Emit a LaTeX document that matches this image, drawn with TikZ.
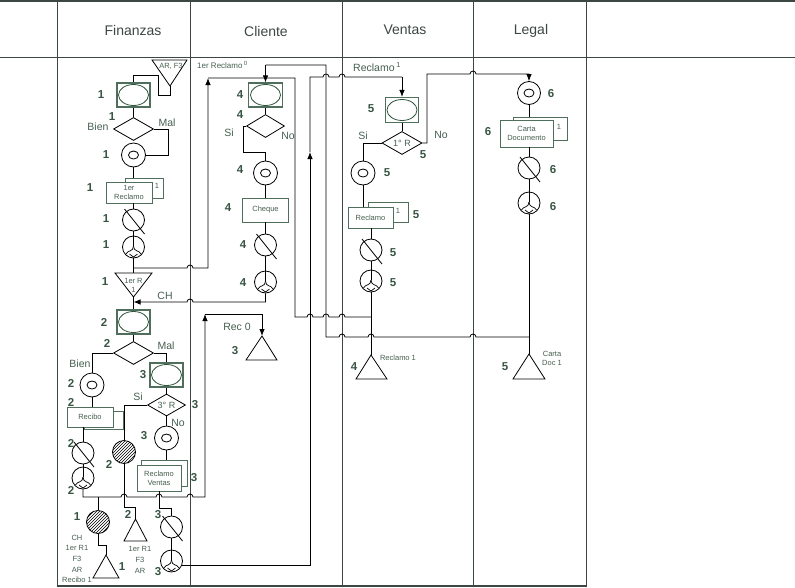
\documentclass[tikz,border=0pt]{standalone}
\usepackage{fontspec}
\setmainfont{Liberation Sans}
\usetikzlibrary{shapes.geometric,arrows.meta,patterns}
\definecolor{gridc}{RGB}{60,70,66}
\definecolor{lblc}{RGB}{55,85,66}
\definecolor{txtc}{RGB}{70,95,80}
\definecolor{boxc}{RGB}{80,110,92}
\definecolor{ovc}{RGB}{45,85,60}
\newcommand\xslash[1]{\draw[ln] ([shift={(-9pt,11pt)}]#1.center) -- ([shift={(11pt,-14pt)}]#1.center);}
\begin{document}
\begin{tikzpicture}[x=1pt,y=-1pt,
 ln/.style={line width=0.8pt},
 arr/.style={line width=0.8pt,-{Latex[length=7pt,width=5.5pt]}},
 num/.style={font=\fontsize{11.5}{12}\selectfont\bfseries,text=lblc,inner sep=0pt},
 lab/.style={font=\fontsize{10.5}{12}\selectfont,text=txtc,inner sep=0pt},
 small/.style={font=\fontsize{7.5}{9}\selectfont,text=txtc,inner sep=0pt,align=center},
 head/.style={font=\fontsize{14}{16}\selectfont,text=gridc},
 ovalbox/.style={rectangle,draw=boxc,line width=1.1pt,minimum width=33pt,minimum height=24pt,inner sep=0pt,
   path picture={\draw[ovc,line width=0.8pt] (path picture bounding box.center) ellipse [x radius=15pt,y radius=10.5pt];}},
 dec/.style={diamond,draw,line width=0.8pt,aspect=1.7,minimum width=40pt,minimum height=23pt,inner sep=0pt,font=\fontsize{9}{10}\selectfont,text=txtc},
 dcirc/.style={circle,draw,line width=0.8pt,minimum size=24pt,inner sep=0pt,
   path picture={\draw[line width=0.8pt] (path picture bounding box.center) ellipse [x radius=5pt,y radius=4pt];}},
 xcirc/.style={circle,draw,line width=0.8pt,minimum size=22pt,inner sep=0pt},
 hcirc/.style={circle,draw,line width=0.8pt,minimum size=23pt,inner sep=0pt,pattern=north east lines},
 fcirc/.style={circle,draw,line width=0.8pt,minimum size=22pt,inner sep=0pt,
   path picture={\coordinate (pc) at (path picture bounding box.center);
     \draw[line width=0.7pt] ([yshift=11pt]pc) -- ([yshift=1pt]pc);
     \draw[line width=0.7pt] ([yshift=1pt]pc) .. controls ([yshift=-5pt]pc) and ([shift={(-6pt,-3pt)}]pc) .. ([shift={(-7.5pt,-7pt)}]pc);
     \draw[line width=0.7pt] ([yshift=1pt]pc) .. controls ([yshift=-5pt]pc) and ([shift={(6pt,-3pt)}]pc) .. ([shift={(7.5pt,-7pt)}]pc);
     \draw[line width=0.7pt] ([shift={(-4pt,-7pt)}]pc) -- ([yshift=-10pt]pc) -- ([shift={(4pt,-7pt)}]pc);}},
 docf/.style={rectangle,draw=boxc,fill=white,line width=0.8pt,inner sep=1pt,font=\fontsize{7.5}{9}\selectfont,text=txtc,align=center},
 docb/.style={draw=boxc,fill=white,line width=0.8pt}
]
\useasboundingbox (0,0) rectangle (795,587);
% grid
\draw[gridc,line width=2pt] (0,1) -- (795,1);
\draw[gridc,line width=1pt] (0,57) -- (795,57);
\foreach \x in {57,190,342,473,586} \draw[gridc,line width=0.9pt] (\x,0) -- (\x,587);
\draw[gridc,line width=1.5pt] (57,586) -- (586,586);
% headers
\node[head] (hF) at (133,30) {Finanzas};
\node[head] (hC) at (266,31) {Cliente};
\node[head] (hV) at (405,30) {Ventas};
\node[head] (hL) at (531,31) {Legal};

% ---------------- Finanzas
\coordinate (tAR) at (170,86);
\draw[ln] (152,60) -- (187,60) -- (tAR) -- cycle;
\node[small] (tARl) at (171,66) {AR, F3};
\node[ovalbox] (ob1) at (133.5,95) {};
\node[dec] (d1) at (133.5,129) {};
\node[dcirc] (c1) at (133.5,155) {};
\draw[docb] (125,178) rectangle (163,198);
\node[small] (b1n) at (157,186) {1};
\node[docf,minimum width=46pt,minimum height=21pt] (doc1) at (129,192.5) {1er\\Reclamo};
\node[xcirc] (x1) at (133.5,220) {}; \xslash{x1}
\node[fcirc] (f1) at (133.5,247) {};
\coordinate (t1R) at (133.5,297);
\draw[ln] (115,273) -- (152,273) -- (t1R) -- cycle;
\node[small] (t1Rl) at (133.5,285) {1er R\\1};
\node[ovalbox] (ob2) at (133.5,322) {};
\node[dec] (d2) at (133.5,353) {};
\node[dcirc] (c2) at (92,385) {};
\node[ovalbox] (ob3) at (166.5,375) {};
\node[dec,minimum width=38pt,minimum height=22pt] (d3) at (166.5,405) {3° R};
\draw[docb] (84,411) rectangle (123,429);
\node[docf,minimum width=46pt,minimum height=20pt] (doc2) at (90,417) {Recibo};
\node[dcirc] (c3) at (166.5,438) {};
\node[hcirc] (hc2) at (124,452) {};
\node[xcirc] (x2) at (83,453) {}; \xslash{x2}
\node[fcirc] (f2) at (83,478) {};
\draw[docb] (141,460) rectangle (187,486);
\node[docf,minimum width=44pt,minimum height=26pt] (doc3) at (159,478) {Reclamo\\Ventas};
\node[hcirc] (hc1) at (98,522) {};
\coordinate (t2) at (135.5,519);
\draw[ln] (t2) -- (147,541) -- (124,541) -- cycle;
\node[xcirc] (x3) at (171.5,527) {}; \xslash{x3}
\node[fcirc] (f3) at (171.5,561) {};
\coordinate (tt1) at (106,555);
\draw[ln] (tt1) -- (119,578) -- (93,578) -- cycle;
\node[small,font=\fontsize{7.5}{10.7}\selectfont] (txt1) at (77,559) {CH\\1er R1\\F3\\AR\\Recibo 1};
\node[small,font=\fontsize{7.5}{10.7}\selectfont] (txt2) at (140,560) {1er R1\\F3\\AR};
% Finanzas labels
\node[num] (l1) at (101,95) {1};
\node[num] (l2) at (112,117) {1};
\node[lab] (l3) at (98,127) {Bien};
\node[lab] (l4) at (167,123) {Mal};
\node[num] (l5) at (106,155) {1};
\node[num] (l6) at (90,188) {1};
\node[num] (l7) at (106,219) {1};
\node[num] (l8) at (106,245) {1};
\node[num] (l9) at (105,282) {1};
\node[lab] (l10) at (165,296) {CH};
\node[num] (l11) at (104,322) {2};
\node[num] (l12) at (107,343) {2};
\node[lab] (l13) at (166,346) {Mal};
\node[lab] (l14) at (80,364) {Bien};
\node[num] (l15) at (71,383) {2};
\node[num] (l16) at (143,375) {3};
\node[lab] (l17) at (138,397) {Si};
\node[num] (l18) at (195,405) {3};
\node[lab] (l19) at (178,423) {No};
\node[num] (l20) at (71,402) {2};
\node[num] (l21) at (144,436) {3};
\node[num] (l22) at (71,443) {2};
\node[num] (l23) at (109,464) {2};
\node[num] (l24) at (71,490) {2};
\node[num] (l25) at (194,478) {3};
\node[num] (l26) at (77,517) {1};
\node[num] (l27) at (128,514) {2};
\node[num] (l28) at (158,515) {3};
\node[num] (l29) at (122,567) {1};
\node[num] (l30) at (158,572) {3};

% ---------------- Cliente
\node[small,anchor=west,font=\fontsize{8}{9}\selectfont] (lrec0) at (197,65) {1er Reclamo\,\textsuperscript{0}};
\node[ovalbox,minimum width=34pt] (ob4) at (265.5,95) {};
\node[dec,minimum width=38pt] (d4) at (265.5,126) {};
\node[dcirc] (c4) at (265.5,173) {};
\node[docf,minimum width=46pt,minimum height=24pt] (chq) at (265.5,210) {Cheque};
\node[xcirc] (x4) at (265.5,245) {}; \xslash{x4}
\node[fcirc] (f4) at (265.5,282) {};
\coordinate (tR0) at (262,336);
\draw[ln] (tR0) -- (277,360) -- (246,360) -- cycle;
\node[num] (m1) at (240,95) {4};
\node[num] (m2) at (240,115) {4};
\node[lab] (m3) at (229,133) {Si};
\node[lab] (m4) at (288,136) {No};
\node[num] (m5) at (240,170) {4};
\node[num] (m6) at (228,208) {4};
\node[num] (m7) at (243,245) {4};
\node[num] (m8) at (243,283) {4};
\node[lab] (m9) at (237,327) {Rec 0};
\node[num] (m10) at (235,351) {3};

% ---------------- Ventas
\node[lab,anchor=west] (lrec1) at (353,67) {Reclamo\,\textsuperscript{1}};
\node[ovalbox,minimum height=25pt] (ob5) at (402,110) {};
\node[dec] (d5) at (402,143) {1° R};
\node[dcirc] (c5) at (363,173) {};
\draw[docb] (368,202) rectangle (408,222);
\node[small] (b5n) at (398,211) {1};
\node[docf,minimum width=45pt,minimum height=21pt] (doc5) at (370.5,217.5) {Reclamo};
\node[xcirc] (x5) at (371,250) {}; \xslash{x5}
\node[fcirc] (f5) at (371,281) {};
\coordinate (tR1) at (371,355);
\draw[ln] (tR1) -- (387,379) -- (356,379) -- cycle;
\node[num] (v1) at (371,109) {5};
\node[lab] (v2) at (363,136) {Si};
\node[lab] (v3) at (441,135) {No};
\node[num] (v4) at (423,155) {5};
\node[num] (v5) at (387,173) {5};
\node[num] (v6) at (416,215) {5};
\node[num] (v7) at (393,253) {5};
\node[num] (v8) at (393,283) {5};
\node[num] (v9) at (354,367) {4};
\node[small] (v10) at (398,358) {Reclamo 1};

% ---------------- Legal
\node[dcirc,minimum size=23pt] (c6) at (529,93) {};
\draw[docb] (513,117) rectangle (567,140);
\node[small] (b6n) at (559,127) {1};
\node[docf,minimum width=53pt,minimum height=27pt] (doc6) at (526.5,133.5) {Carta\\Documento};
\node[xcirc] (x6) at (529,168) {}; \xslash{x6}
\node[fcirc] (f6) at (529,203) {};
\coordinate (tCD) at (529,354);
\draw[ln] (tCD) -- (545,379) -- (513,379) -- cycle;
\node[num] (g1) at (551,94) {6};
\node[num] (g2) at (488,132) {6};
\node[num] (g3) at (553,170) {6};
\node[num] (g4) at (553,207) {6};
\node[num] (g5) at (505,367) {5};
\node[small] (g6) at (552,358) {Carta\\Doc 1};

% ---------------- connectors
\draw[ln] (tAR) -- (170,95) -- (158,95) -- (158,75) -- (ob1.north |- 0,75) -- (ob1.north);
\draw[ln] (ob1.south) -- (d1.north);
\draw[ln] (d1.east) -- (168,129) |- (c1.east);
\draw[ln] (c1.south) -- (c1.south |- 0,178);
\draw[ln] (x1 |- doc1.south) -- (x1.north);
\draw[ln] (x1.south) -- (f1.north);
\draw[ln] (f1.south) -- (t1R |- 0,273);
\draw[arr] (t1R |- 0,268) -- (187,268) arc[start angle=180,end angle=360,radius=3] -- (208,268) -- (208,78);
\draw[ln] (208,78) -- (295,78) -- (295,317) -- (307,317) arc[start angle=180,end angle=360,radius=3]
  -- (323,317) arc[start angle=180,end angle=360,radius=3]
  -- (339,317) arc[start angle=180,end angle=360,radius=3] -- (f5 |- 0,317);
\draw[arr] (f4.south) -- (f4.south |- 0,302) -- (193,302) arc[start angle=0,end angle=-180,radius=3] -- (t1R |- 0,302);
\draw[ln] (t1R) -- (ob2.north);
\draw[ln] (ob2.south) -- (d2.north);
\draw[ln] (d2.west) -| (c2.north);
\draw[ln] (d2.east) -| (ob3.north);
\draw[ln] (ob3.south) -- (d3.north);
\draw[ln] (d3.west) -| (hc2.north);
\draw[ln] (d3.south) -- (c3.north);
\draw[ln] (c3.south) -- (c3.south |- 0,460);
\draw[ln] (c2.south) -- (c2.south |- doc2.north);
\draw[ln] (x2 |- doc2.south) -- (x2.north);
\draw[ln] (x2.south) -- (f2.north);
\draw[arr] (f2.south) -- (83,497) -- (121,497) arc[start angle=180,end angle=360,radius=3]
  -- (156,497) arc[start angle=180,end angle=360,radius=3]
  -- (187,497) arc[start angle=180,end angle=360,radius=3] -- (205,497) -- (205,314);
\draw[arr] (205,314) -- (tR0 |- 0,314) -- (tR0);
\draw[ln] (hc1 |- 0,497) -- (hc1.north);
\draw[ln] (hc2.south) -- (hc2.south |- 0,507) -- (t2 |- 0,507) -- (t2);
\draw[ln] (hc1.south) -- (hc1.south |- 0,545) -- (tt1 |- 0,545) -- (tt1);
\draw[ln] (doc3.south) -- (doc3.south |- 0,508) -- (x3 |- 0,508) -- (x3.north);
\draw[ln] (x3.south) -- (f3.north);
\draw[arr] (f3.-20) -- (f3.-20 -| 310,0) -- (310,152);
\draw[ln] (310,152) -- (310,77) -- (323,77) arc[start angle=180,end angle=360,radius=3]
  -- (339,77) arc[start angle=180,end angle=360,radius=3] -- (ob5 |- 0,77);
\draw[arr] (ob5 |- 0,77) -- (ob5.north);
\draw[ln] (f6 |- 0,337) -- (476,337) arc[start angle=0,end angle=-180,radius=3]
  -- (374,337) arc[start angle=0,end angle=-180,radius=3]
  -- (345,337) arc[start angle=0,end angle=-180,radius=3] -- (326,337) -- (326,65) -- (ob4 |- 0,65);
\draw[arr] (ob4 |- 0,65) -- (ob4.north);
% Cliente
\draw[ln] (ob4.south) -- (d4.north);
\draw[ln] (d4.west) -- (243,126) -- (243,152) -| (c4.north);
\draw[ln] (c4.south) -- (chq.north);
\draw[ln] (chq.south) -- (x4.north);
\draw[ln] (x4.south) -- (f4.north);
% Ventas
\draw[ln] (ob5.south) -- (d5.north);
\draw[ln] (d5.west) -| (c5.north);
\draw[arr] (d5.east) -- (427,143) -- (427,74) -- (470,74) arc[start angle=180,end angle=360,radius=3] -- (c6 |- 0,74) -- (c6.north);
\draw[ln] (c5.south) -- (c5.south |- doc5.north);
\draw[ln] (x5 |- doc5.south) -- (x5.north);
\draw[ln] (x5.south) -- (f5.north);
\draw[ln] (f5.south) -- (tR1);
% Legal
\draw[ln] (c6.south) -- (c6.south |- 0,117);
\draw[ln] (x6 |- doc6.south) -- (x6.north);
\draw[ln] (x6.south) -- (f6.north);
\draw[ln] (f6.south) -- (tCD);
\end{tikzpicture}
\end{document}
